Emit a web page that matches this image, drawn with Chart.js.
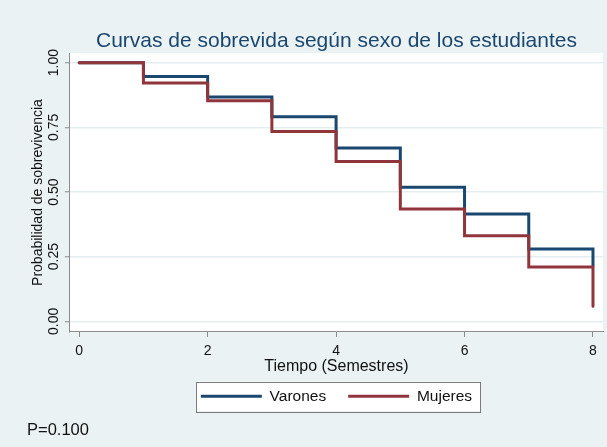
<!DOCTYPE html>
<html>
<head>
<meta charset="utf-8">
<script src="https://cdn.jsdelivr.net/npm/chart.js@4.4.1/dist/chart.umd.min.js"></script>
<style>
  html, body { margin: 0; padding: 0; background: #eaf2f3; }
  #wrap { width: 607px; height: 447px; position: relative; }
</style>
</head>
<body>
<div id="wrap"><canvas id="kmChart"></canvas></div>
<script>
// survival estimates (semesters 0..8)
const tiempo = [0, 1, 2, 3, 4, 5, 6, 7, 8];
const varones = [1.00, 0.947, 0.867, 0.791, 0.670, 0.518, 0.415, 0.280, 0.216];
const mujeres = [1.00, 0.921, 0.853, 0.734, 0.618, 0.434, 0.331, 0.210, 0.058];
const xTicks = [0, 2, 4, 6, 8];
const yTicks = [0, 0.25, 0.5, 0.75, 1];
const pValor = "P=0.100";

const FONT = "'Liberation Sans', Arial, sans-serif";
const BG = "#eaf2f3";
const AXIS = "#8c8c8c";

// page background, white plot region and framed legend
const bgPlugin = {
  id: "bg",
  beforeDraw(chart) {
    const { ctx, chartArea: a } = chart;
    ctx.save();
    ctx.fillStyle = BG;
    ctx.fillRect(0, 0, chart.width, chart.height);
    ctx.fillStyle = "#fff";
    ctx.fillRect(a.left, a.top, a.right - a.left, a.bottom - a.top);
    const boxes = chart.legend && chart.legend.legendHitBoxes;
    if (boxes && boxes.length) {
      const left = Math.min(...boxes.map(b => b.left)) - 5;
      const right = Math.max(...boxes.map(b => b.left + b.width)) + 8;
      const top = boxes[0].top - 7;
      const bottom = boxes[0].top + boxes[0].height + 7;
      ctx.fillRect(left, top, right - left, bottom - top);
      ctx.strokeStyle = "#7a7a7a";
      ctx.lineWidth = 1;
      ctx.strokeRect(Math.round(left) + 0.5, Math.round(top) + 0.5, Math.round(right - left), Math.round(bottom - top));
    }
    ctx.restore();
  },
  afterDraw(chart) {
    const ctx = chart.ctx;
    ctx.save();
    ctx.fillStyle = "#111";
    ctx.font = "16.5px " + FONT;
    ctx.textBaseline = "middle";
    ctx.fillText(pValor, 27, 430);
    ctx.restore();
  }
};

const ctx = document.getElementById("kmChart").getContext("2d");
const kmChart = new Chart(ctx, {
  type: "line",
  data: {
    datasets: [
      {
        label: "Varones",
        data: tiempo.map((t, i) => ({ x: t, y: varones[i] })),
        borderColor: "#1a476f",
        backgroundColor: "#1a476f",
        borderWidth: 3,
        borderCapStyle: "round",
        pointRadius: 0,
        stepped: "before",
        order: 1,
      },
      {
        label: "Mujeres",
        data: tiempo.map((t, i) => ({ x: t, y: mujeres[i] })),
        borderColor: "#90353b",
        backgroundColor: "#90353b",
        borderWidth: 3,
        borderCapStyle: "round",
        pointRadius: 0,
        stepped: "before",
        order: 0,
      },
    ],
  },
  options: {
    responsive: true,
    maintainAspectRatio: false,
    animation: false,
    layout: { padding: { left: 28, right: 4, top: 0, bottom: 33 } },
    scales: {
      x: {
        type: "linear",
        min: -0.145,
        max: 8.156,
        afterBuildTicks: (s) => { s.ticks = xTicks.map(v => ({ value: v })); },
        ticks: { color: "#111", font: { family: FONT, size: 14, lineHeight: 1 }, padding: 7.7, maxRotation: 0 },
        grid: { drawOnChartArea: false, tickLength: 5, tickColor: AXIS, tickWidth: 1 },
        border: { color: AXIS, width: 1 },
        title: {
          display: true,
          text: "Tiempo (Semestres)",
          color: "#111",
          font: { family: FONT, size: 16, lineHeight: 0.01 },
          padding: { top: 0, bottom: 0 },
        },
      },
      y: {
        type: "linear",
        min: -0.041,
        max: 1.037,
        afterBuildTicks: (s) => { s.ticks = yTicks.map(v => ({ value: v })); },
        ticks: {
          color: "#111",
          font: { family: FONT, size: 14 },
          callback: (v) => v.toFixed(2),
          minRotation: 90,
          maxRotation: 90,
          crossAlign: "center",
          padding: -3,
        },
        grid: { color: "#e4eef0", lineWidth: 1.5, tickColor: AXIS, tickWidth: 1, tickLength: 5 },
        border: { color: AXIS, width: 1 },
        title: {
          display: true,
          text: "Probabilidad de sobrevivencia",
          color: "#111",
          font: { family: FONT, size: 14 },
          padding: { top: 2, bottom: 7.3 },
        },
      },
    },
    plugins: {
      title: {
        display: true,
        text: "Curvas de sobrevida según sexo de los estudiantes",
        fullSize: false,
        color: "#1a476f",
        font: { family: FONT, size: 21, weight: "normal", lineHeight: 1.1 },
        padding: { top: 30, bottom: 0 },
      },
      legend: {
        position: "bottom",
        fullSize: false,
        labels: {
          usePointStyle: true,
          pointStyle: "line",
          pointStyleWidth: 61,
          color: "#111",
          font: { family: FONT, size: 15.5 },
          padding: 22,
          sort: (a, b) => a.datasetIndex - b.datasetIndex,
        },
      },
      tooltip: { enabled: false },
    },
  },
  plugins: [bgPlugin],
});
</script>
</body>
</html>
